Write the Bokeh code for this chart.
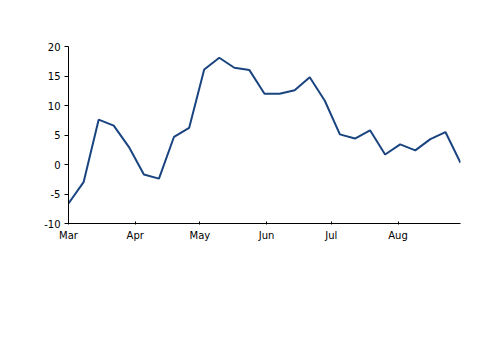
from datetime import datetime, timedelta
from bokeh.plotting import figure
from bokeh.models import (Range1d, FixedTicker, MonthsTicker, DatetimeTickFormatter,
                          ColumnDataSource, PrintfTickFormatter)
from bokeh.embed import file_html
from bokeh.resources import INLINE

start = datetime(2021, 3, 1)
values = [-6.6, -3.0, 7.6, 6.6, 3.0, -1.7, -2.4, 4.7, 6.2, 16.1, 18.1, 16.4, 16.0,
          12.0, 12.0, 12.6, 14.8, 10.8, 5.1, 4.4, 5.8, 1.7, 3.4, 2.4, 4.3, 5.5, 0.3]
dates = [start + timedelta(days=7 * i) for i in range(len(values))]
y_ticks = [-10, -5, 0, 5, 10, 15, 20]

src = ColumnDataSource(dict(x=dates, y=values))

p = figure(width=500, height=353, output_backend="svg", toolbar_location=None,
           x_axis_type="datetime",
           x_range=Range1d(datetime(2021, 3, 1), datetime(2021, 8, 30)),
           y_range=Range1d(-10, 20),
           min_border_left=68, min_border_right=40, min_border_top=46, min_border_bottom=130)
p.line("x", "y", source=src, line_color="#1a4480", line_width=2)

p.grid.visible = False
p.outline_line_color = None
p.background_fill_color = "white"
p.border_fill_color = "white"

p.yaxis.ticker = FixedTicker(ticks=y_ticks)
p.yaxis.formatter = PrintfTickFormatter(format="%d")
p.xaxis.ticker = MonthsTicker(months=list(range(12)))
p.xaxis.formatter = DatetimeTickFormatter(months="%b", days="%b")

for ax in (p.xaxis, p.yaxis):
    ax.axis_line_color = "black"
    ax.axis_line_width = 1
    ax.major_tick_line_color = "black"
    ax.minor_tick_line_color = None
    ax.major_label_text_font = "DejaVu Sans"
    ax.major_label_text_font_size = "10px"
    ax.major_label_text_color = "black"

p.yaxis.major_tick_in = 0
p.yaxis.major_tick_out = 4
p.yaxis.major_label_standoff = 4
p.xaxis.major_tick_in = 2
p.xaxis.major_tick_out = 1
p.xaxis.major_label_standoff = 5

open("out.html", "w").write(file_html(p, INLINE))
